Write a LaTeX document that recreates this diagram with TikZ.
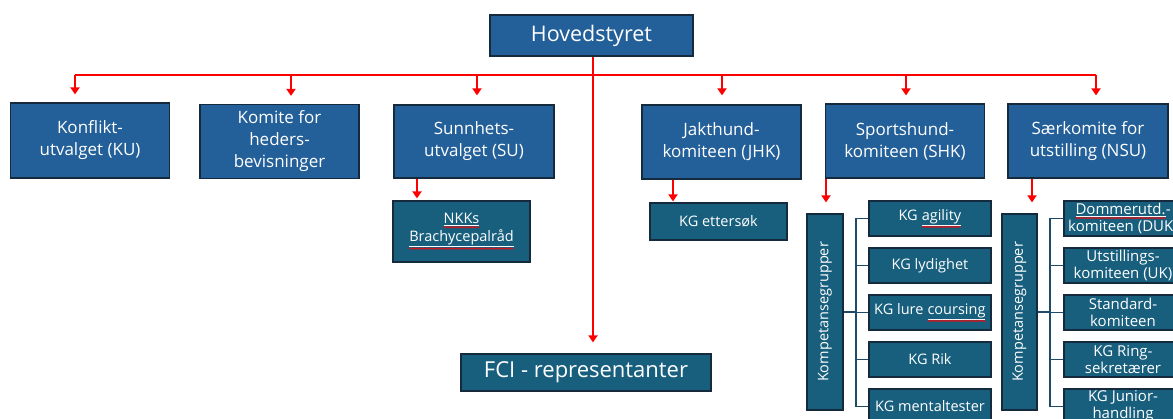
\documentclass[tikz,border=0pt]{standalone}
\usepackage{fontspec}
\setmainfont{Open Sans}
\usetikzlibrary{arrows.meta,decorations.pathmorphing}
\definecolor{boxblue}{RGB}{35,96,153}
\definecolor{boxteal}{RGB}{24,95,126}
\definecolor{edgecol}{RGB}{22,42,62}
\definecolor{brkcol}{RGB}{30,75,105}
\tikzset{sqword/.style={shape=rectangle, inner sep=0pt, outer sep=0pt, minimum width=0pt, minimum height=0pt, draw=none, fill=none, text=white, anchor=base, rotate=0, align=left}}
\newcommand\sq[1]{\tikz[baseline=(sqw.base),x=1cm,y=1cm]{\node[sqword] (sqw) {\underline{#1}}; \draw[red, solid, line width=0.6pt, decorate, decoration={snake, amplitude=0.7pt, segment length=2.4pt}] ([yshift=-1.3pt]sqw.south west) -- ([yshift=-1.3pt]sqw.south east);}}
\begin{document}
\begin{tikzpicture}[x=1pt,y=-1pt,
  box/.style={draw=edgecol, line width=1.2pt, fill=boxblue, text=white, align=center, inner sep=0pt},
  lvl1/.style={box, minimum width=159pt, minimum height=74pt, font=\fontsize{17}{22}\selectfont},
  sub/.style={box, fill=boxteal},
  kg/.style={sub, minimum height=35pt, font=\fontsize{14.5}{17}\selectfont},
  kgr/.style={kg, minimum width=118pt, font=\fontsize{15}{17}\selectfont},
  kgl/.style={kg, minimum width=122pt},
  vtext/.style={rotate=90, text=white, font=\fontsize{14.5}{17}\selectfont, inner sep=0pt},
  redl/.style={draw=red, line width=2.4pt},
  redarr/.style={redl, -{Triangle[width=9pt,length=7pt]}},
  brkl/.style={draw=brkcol, line width=1.8pt}]
\useasboundingbox (0,0) rectangle (1173,418);
\clip (0,0) rectangle (1173,418);

% top
\node[box, minimum width=203pt, minimum height=41pt, font=\fontsize{21.5}{24}\selectfont] (hs) at (591.5,35.5) {Hovedstyret};

% level 1
\node[lvl1, minimum height=75pt] (ku) at (90,140.5) {Konflikt-\\utvalget (KU)};
\node[lvl1] (kom) at (279.5,141.5) {Komite for\\heders-\\bevisninger};
\node[lvl1, minimum width=160pt, minimum height=73pt] (su) at (474,141.5) {Sunnhets-\\utvalget (SU)};
\node[lvl1] (jhk) at (721.5,142) {Jakthund-\\komiteen (JHK)};
\node[lvl1] (shk) at (905,141) {Sportshund-\\komiteen (SHK)};
\node[lvl1, minimum width=160pt] (nsu) at (1088,141) {Særkomite for\\utstilling (NSU)};

% level 2
\node[sub, minimum width=137pt, minimum height=61pt, font=\fontsize{14.5}{18}\selectfont] (nkk) at (461.5,231.5) {\sq{NKKs}\\\sq{Brachycepalråd}};
\node[sub, minimum width=137pt, minimum height=37pt, font=\fontsize{14.5}{17}\selectfont] (ett) at (718.5,221.5) {KG ettersøk};
\node[sub, minimum width=250pt, minimum height=37pt, font=\fontsize{22}{24}\selectfont] (fci) at (586,372.5) {FCI - representanter};

% Kompetansegrupper SHK
\node[sub, minimum width=36pt, minimum height=196pt] (kg1) at (825,312) {};
\node[vtext] (kg1t) at (kg1.center) {Kompetansegrupper};
\node[kgl] (ag)   at (930,218.5) {KG \sq{agility}};
\node[kgl] (lyd)  at (930,265.5) {KG lydighet};
\node[kgl] (lure) at (930,312.5) {KG lure \sq{coursing}};
\node[kgl] (rik)  at (930,359.5) {KG Rik};
\node[kgl] (ment) at (930,406.5) {KG mentaltester};

% Kompetansegrupper NSU
\node[sub, minimum width=35pt, minimum height=196pt] (kg2) at (1019.5,312) {};
\node[vtext] (kg2t) at (kg2.center) {Kompetansegrupper};
\node[kgr] (duk)  at (1123,218.5) {\sq{Dommerutd.}-\\komiteen (DUK)};
\node[kgr] (uk)   at (1123,265.5) {Utstillings-\\komiteen (UK)};
\node[kgr] (std)  at (1123,312.5) {Standard-\\komiteen};
\node[kgr] (ring) at (1123,359.5) {KG Ring-\\sekretærer};
\node[kgr] (jun)  at (1123,406.5) {KG Junior-\\handling};

% red connectors
\coordinate (bus) at (593,75);
\coordinate (a1) at (75,75);
\coordinate (a2) at (291,75);
\coordinate (a3) at (477,75);
\coordinate (a4) at (722,75);
\coordinate (a5) at (906,75);
\coordinate (a6) at (1096,75);
\draw[redl] (hs.south -| bus) -- (bus);
\draw[redl] (a1) -- (a6);
\draw[redarr, shorten >=8pt] (a1) -- (a1 |- ku.north);
\draw[redarr, shorten >=8pt] (a2) -- (a2 |- kom.north);
\draw[redarr, shorten >=9pt] (a3) -- (a3 |- su.north);
\draw[redarr, shorten >=9pt] (a4) -- (a4 |- jhk.north);
\draw[redarr, shorten >=8pt] (a5) -- (a5 |- shk.north);
\draw[redarr, shorten >=8pt] (a6) -- (a6 |- nsu.north);
\draw[redarr, shorten >=11pt] (bus) -- (bus |- fci.north);

\coordinate (c1) at (417,178);
\coordinate (c2) at (673,178);
\coordinate (c3) at (826,178);
\coordinate (c4) at (1032,178);
\draw[redarr, shorten >=2pt] (su.south -| c1) -- (nkk.north -| c1);
\draw[redarr, shorten >=1pt] (jhk.south -| c2) -- (ett.north -| c2);
\draw[redarr, shorten >=11pt] (shk.south -| c3) -- (kg1.north -| c3);
\draw[redarr, shorten >=11pt] (nsu.south -| c4) -- (kg2.north -| c4);

% brackets
\coordinate (b1) at (856,312.5);
\draw[brkl] (kg1.east) -- (kg1.east -| b1);
\draw[brkl] (ag.west) -| (b1);
\draw[brkl] (ment.west) -| (b1);
\draw[brkl] (lyd.west) -- (lyd.west -| b1);
\draw[brkl] (lure.west) -- (lure.west -| b1);
\draw[brkl] (rik.west) -- (rik.west -| b1);

\coordinate (b2) at (1050,312.5);
\draw[brkl] (kg2.east) -- (kg2.east -| b2);
\draw[brkl] (duk.west) -| (b2);
\draw[brkl] (jun.west) -| (b2);
\draw[brkl] (uk.west) -- (uk.west -| b2);
\draw[brkl] (std.west) -- (std.west -| b2);
\draw[brkl] (ring.west) -- (ring.west -| b2);
\end{tikzpicture}
\end{document}
